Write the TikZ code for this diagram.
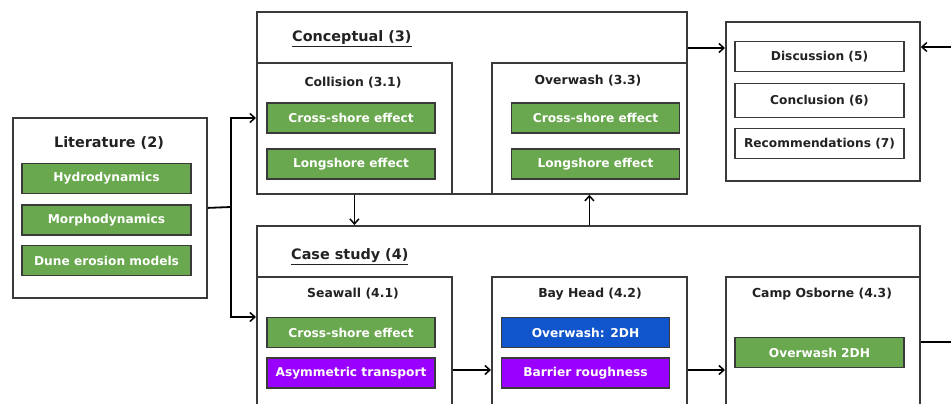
\documentclass[tikz,border=0pt]{standalone}
\usepackage{fontspec}
\setmainfont{DejaVu Sans}
\usetikzlibrary{arrows.meta}
\definecolor{gbox}{HTML}{6AA84F}
\definecolor{bbox}{HTML}{1155CC}
\definecolor{pbox}{HTML}{9900FF}
\definecolor{edge}{HTML}{3A3A3A}
\definecolor{txt}{HTML}{222222}
\tikzset{
  frame/.style={draw=edge, line width=1.8pt, fill=white, inner sep=0pt, anchor=north west},
  lbl/.style={draw=edge, line width=1.8pt, inner sep=0pt, minimum width=168pt, minimum height=30pt,
    text=white, font=\fontsize{12.2}{14}\selectfont\bfseries},
  green/.style={lbl, fill=gbox},
  blue/.style={lbl, fill=bbox},
  purple/.style={lbl, fill=pbox},
  plain/.style={lbl, fill=white, text=txt},
  big/.style={text=txt, font=\fontsize{14.4}{16}\selectfont\bfseries, inner sep=0pt},
  sub/.style={text=txt, font=\fontsize{12.4}{14}\selectfont\bfseries, inner sep=0pt},
  arr/.style={line width=1.8pt, black, -{Straight Barb[length=5pt,width=9pt,line width=1.5pt]}},
  ln/.style={line width=1.8pt, black}
}
\begin{document}
\begin{tikzpicture}[x=1pt,y=-1pt]
\useasboundingbox (0,0) rectangle (951,404);
\clip (0,0) rectangle (951,404);
\fill[white] (0,0) rectangle (951,404);

% Literature
\node[frame, minimum width=194pt, minimum height=180pt] (lit) at (12,117) {};
\node[big] (littitle) at (109,143) {Literature (2)};
\node[green, minimum width=169pt] (hyd) at (106.5,178.5) {Hydrodynamics};
\node[green, minimum width=169pt] (mor) at (106.5,220) {Morphodynamics};
\node[green, minimum width=169pt] (dun) at (106.5,260.5) {Dune erosion models};

% Conceptual
\node[frame, minimum width=430pt, minimum height=182pt] (conc) at (256,11) {};
\node[big, anchor=west] (conctitle) at (292,39) {\underline{Conceptual (3)}};
\node[frame, minimum width=195pt, minimum height=131pt] (coll) at (256,62) {};
\node[sub] (colltitle) at (353,83) {Collision (3.1)};
\node[green] (c1) at (351,118) {Cross-shore effect};
\node[green] (c2) at (351,164) {Longshore effect};
\node[frame, minimum width=195pt, minimum height=131pt] (ow) at (491,62) {};
\node[sub] (owtitle) at (588,81) {Overwash (3.3)};
\node[green] (o1) at (595.5,118) {Cross-shore effect};
\node[green] (o2) at (595.5,164) {Longshore effect};

% Right box
\node[frame, minimum width=194pt, minimum height=159pt] (res) at (725,21) {};
\node[plain, minimum width=169pt] (disc) at (819.5,56.5) {Discussion (5)};
\node[plain, minimum width=169pt, minimum height=34pt] (conl) at (819.5,100.5) {Conclusion (6)};
\node[plain, minimum width=169pt] (rec) at (819.5,143.5) {Recommendations (7)};

% Case study
\node[frame, minimum width=663pt, minimum height=240pt] (case) at (256,225) {};
\node[big, anchor=west] (casetitle) at (291,257) {\underline{Case study (4)}};
\node[frame, minimum width=195pt, minimum height=190pt] (sea) at (256,276) {};
\node[sub] (seatitle) at (353,294) {Seawall (4.1)};
\node[green] (s1) at (351,332.5) {Cross-shore effect};
\node[purple] (s2) at (351,373) {Asymmetric transport};
\node[frame, minimum width=195pt, minimum height=190pt] (bay) at (491,276) {};
\node[sub] (baytitle) at (590,294) {Bay Head (4.2)};
\node[blue] (b1) at (585.5,332.5) {Overwash: 2DH};
\node[purple] (b2) at (585.5,373) {Barrier roughness};
\node[frame, minimum width=194pt, minimum height=190pt] (camp) at (725,276) {};
\node[sub] (camptitle) at (822,294) {Camp Osborne (4.3)};
\node[green, minimum width=169pt] (cm1) at (819.5,352.5) {Overwash 2DH};

% Connectors
\coordinate (j) at (231,207);
\coordinate (inR) at (951,47);
\coordinate (outR) at (951,342);
\draw[ln] (lit.east) -- (j);
\draw[arr] (j) |- (conc.west |- 0,118);
\draw[arr] (j) |- (case.west |- 0,317);
\draw[arr] (coll.south) -- (coll.south |- case.north);
\draw[arr] (ow.south |- case.north) -- (ow.south);
\draw[arr] (conc.east |- 0,48) -- (res.west |- 0,48);
\draw[arr] (inR) -- (res.east |- inR);
\draw[arr] (sea.east |- 0,370) -- (bay.west |- 0,370);
\draw[arr] (bay.east |- 0,370) -- (camp.west |- 0,370);
\draw[ln] (camp.east |- outR) -- (outR);
\end{tikzpicture}
\end{document}
